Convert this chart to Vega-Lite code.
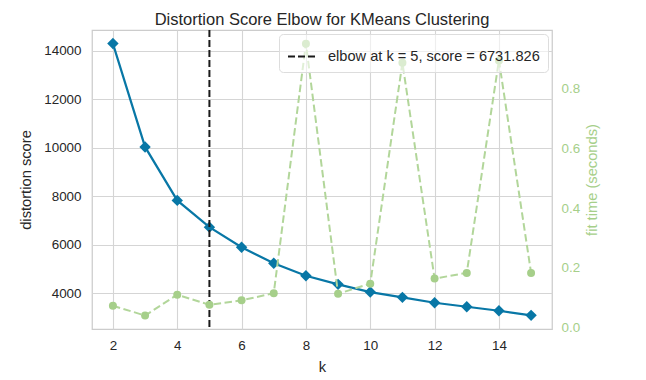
{
  "$schema": "https://vega.github.io/schema/vega-lite/v6.json",
  "width": 460,
  "height": 299,
  "autosize": {"type": "none"},
  "padding": {"left": 92, "top": 30, "right": 94, "bottom": 51},
  "background": "white",
  "config": {
    "font": "Liberation Sans",
    "view": {"stroke": "#cccccc", "strokeWidth": 1.25},
    "axis": {
      "domain": false,
      "ticks": false,
      "labelFontSize": 13.4,
      "labelColor": "#262626",
      "titleFontSize": 14.7,
      "titleFontWeight": "normal",
      "titleColor": "#262626",
      "gridColor": "#d5d5d5",
      "gridWidth": 1.1,
      "zindex": 0
    }
  },
  "title": {
    "text": "Distortion Score Elbow for KMeans Clustering",
    "fontSize": 16.5,
    "fontWeight": "normal",
    "color": "#262626",
    "frame": "group",
    "baseline": "alphabetic",
    "offset": 7,
    "dy": 19
  },
  "data": {
    "values": [
      {"k": 2, "distortion": 14305, "fit_time": 0.073},
      {"k": 3, "distortion": 10041, "fit_time": 0.040},
      {"k": 4, "distortion": 7835, "fit_time": 0.110},
      {"k": 5, "distortion": 6731.826, "fit_time": 0.076},
      {"k": 6, "distortion": 5901, "fit_time": 0.091},
      {"k": 7, "distortion": 5242, "fit_time": 0.115},
      {"k": 8, "distortion": 4725, "fit_time": 0.951},
      {"k": 9, "distortion": 4371, "fit_time": 0.113},
      {"k": 10, "distortion": 4054, "fit_time": 0.147},
      {"k": 11, "distortion": 3835, "fit_time": 0.887},
      {"k": 12, "distortion": 3613, "fit_time": 0.164},
      {"k": 13, "distortion": 3448, "fit_time": 0.183},
      {"k": 14, "distortion": 3283, "fit_time": 0.895},
      {"k": 15, "distortion": 3094, "fit_time": 0.183}
    ]
  },
  "layer": [
    {
      "layer": [
        {
          "mark": {
            "type": "line",
            "color": "#0877a6",
            "strokeWidth": 2.2,
            "point": {"shape": "diamond", "size": 130, "filled": true, "color": "#0877a6", "opacity": 1}
          },
          "encoding": {
            "x": {
              "field": "k",
              "type": "quantitative",
              "scale": {"domain": [1.35, 15.65], "nice": false, "zero": false},
              "axis": {"values": [2, 4, 6, 8, 10, 12, 14], "format": "d", "title": "k", "labelPadding": 9, "titlePadding": 8, "grid": true}
            },
            "y": {
              "field": "distortion",
              "type": "quantitative",
              "scale": {"domain": [2530, 14865], "nice": false, "zero": false},
              "axis": {"orient": "left", "values": [4000, 6000, 8000, 10000, 12000, 14000], "format": "d", "title": "distortion score", "labelPadding": 11, "titlePadding": 10, "grid": true}
            }
          }
        },
        {
          "data": {"values": [{"k": 5}]},
          "mark": {"type": "rule", "strokeDash": [7, 3], "strokeWidth": 2},
          "encoding": {
            "x": {"field": "k", "type": "quantitative"},
            "color": {
              "datum": "elbow at k = 5, score = 6731.826",
              "scale": {"range": ["#1a1a1a"]},
              "legend": {
                "title": null,
                "orient": "top-right",
                "offset": 4,
                "zindex": 0,
                "fillColor": "rgba(255,255,255,0.6)",
                "strokeColor": "#dddddd",
                "cornerRadius": 4,
                "padding": 8,
                "symbolType": "stroke",
                "symbolDash": [7, 3],
                "symbolStrokeWidth": 2,
                "symbolSize": 729,
                "labelFontSize": 14.6,
                "labelColor": "#262626",
                "labelOffset": 12,
                "labelLimit": 400
              }
            }
          }
        }
      ]
    },
    {
      "layer": [
        {
          "mark": {
            "type": "line",
            "color": "#b2d69a",
            "strokeWidth": 2,
            "strokeDash": [7.5, 3.5],
            "point": {"shape": "circle", "size": 64, "filled": true, "color": "#a6cf8a", "opacity": 1}
          },
          "encoding": {
            "x": {"field": "k", "type": "quantitative"},
            "y": {
              "field": "fit_time",
              "type": "quantitative",
              "scale": {"domain": [-0.005, 0.997], "nice": false, "zero": false},
              "axis": {"orient": "right", "values": [0, 0.2, 0.4, 0.6, 0.8], "format": ".1f", "title": "fit time (seconds)", "titleAngle": -90, "titleBaseline": "top", "grid": false, "labelColor": "#a6cf8a", "titleColor": "#a6cf8a", "labelPadding": 9, "titlePadding": 5}
            }
          }
        }
      ]
    }
  ],
  "resolve": {"scale": {"y": "independent"}}
}
